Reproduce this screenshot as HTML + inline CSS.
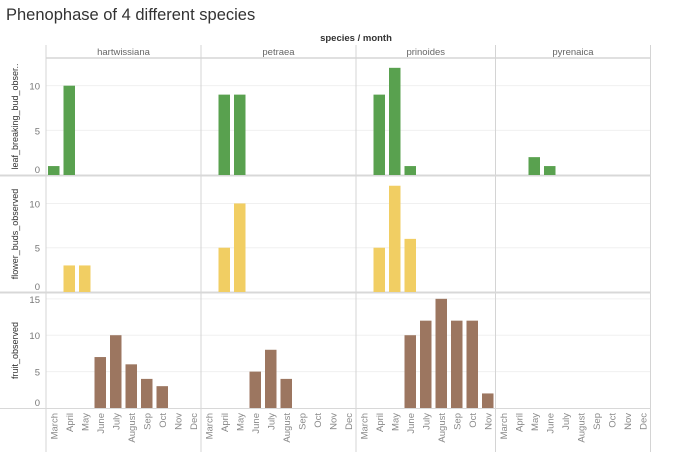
<!DOCTYPE html>
<html><head><meta charset="utf-8"><style>
body{margin:0;background:#fff;font-family:"Liberation Sans",sans-serif;}
svg text{font-family:"Liberation Sans",sans-serif;}
</style></head><body>
<svg id="c" width="675" height="458" xmlns="http://www.w3.org/2000/svg">
<text x="6" y="20" font-size="16.5" fill="#333">Phenophase of 4 different species</text>
<text x="356" y="41" font-size="9.5" font-weight="bold" fill="#333" text-anchor="middle">species / month</text>
</svg>
<script>
const species=["hartwissiana","petraea","prinoides","pyrenaica"];
const speciesMonths=[
 ["March","April","May","June","July","August","Sep","Oct","Nov","Dec"],
 ["March","April","May","June","July","August","Sep","Oct","Nov","Dec"],
 ["March","April","May","June","July","August","Sep","Oct","Nov"],
 ["March","April","May","June","July","August","Sep","Oct","Nov","Dec"]];
const measures=["leaf_breaking_bud_obser..","flower_buds_observed","fruit_observed"];
const colors=["#59a14f","#f1ce63","#9c7660"];
const leafValues=[[1,10,0,0,0,0,0,0,0,0],[0,9,9,0,0,0,0,0,0,0],[0,9,12,1,0,0,0,0,0],[0,0,2,1,0,0,0,0,0,0]];
const flowerValues=[[0,3,3,0,0,0,0,0,0,0],[0,5,10,0,0,0,0,0,0,0],[0,5,12,6,0,0,0,0,0],[0,0,0,0,0,0,0,0,0,0]];
const fruitValues=[[0,0,0,7,10,6,4,3,0,0],[0,0,0,5,8,4,0,0,0,0],[0,0,0,10,12,15,12,12,2],[0,0,0,0,0,0,0,0,0,0]];
const rowTicks=[[0,5,10],[0,5,10],[0,5,10,15]];
const rowMax=[13.1,13.1,15.8];
const all=[leafValues,flowerValues,fruitValues];
const svg=document.getElementById('c');const NS="http://www.w3.org/2000/svg";
function mk(t,a,p){const e=document.createElementNS(NS,t);for(const k in a)e.setAttribute(k,a[k]);(p||svg).appendChild(e);return e;}
const X0=46,SLOT=15.5,BW=11.5;
const rows=[{top:58,bot:175},{top:176,bot:292},{top:293,bot:408}];
const colX=[];let cx=X0;species.forEach((s,i)=>{colX.push(cx);cx+=speciesMonths[i].length*SLOT;});
const XR=cx;
function yS(r,v){const R=rows[r];return R.bot-(v/rowMax[r])*(R.bot-R.top);}
rows.forEach((R,r)=>{rowTicks[r].forEach(t=>{if(t>0){const y=yS(r,t);mk('line',{x1:X0,x2:XR,y1:y,y2:y,stroke:'#f0f0f0'});}});});
mk('line',{x1:X0,x2:XR,y1:58,y2:58,stroke:'#e0e0e0','stroke-width':2});
colX.concat([XR]).forEach((x,i)=>{const l=mk('line',{x1:x,x2:x,y1:45,y2:452,stroke:'#d4d4d4'});

});
species.forEach((s,i)=>{const w=speciesMonths[i].length*SLOT;const t=mk('text',{x:colX[i]+w/2,y:55,'font-size':9.5,fill:'#666','text-anchor':'middle'});t.textContent=s;

});
rows.forEach((R,r)=>{
 mk('line',{x1:0,x2:XR,y1:R.bot+0.5,y2:R.bot+0.5,stroke:'#d8d8d8','stroke-width':r<2?2:1});
 rowTicks[r].forEach(t=>{let y=yS(r,t)+4;if(t==0)y-=6;const e=mk('text',{x:40,y:y,'font-size':9.5,fill:'#777','text-anchor':'end'});e.textContent=t;
 
 });
 const my=(R.top+R.bot)/2;const ttl=mk('text',{x:0,y:0,'font-size':9,fill:'#333','text-anchor':'middle',transform:`translate(18,${my}) rotate(-90)`});ttl.textContent=measures[r];
 
 
 species.forEach((s,i)=>{all[r][i].forEach((v,m)=>{if(v<=0)return;const x=colX[i]+m*SLOT+(SLOT-BW)/2;const y=yS(r,v);
  const b=mk('rect',{x:x,y:y,width:BW,height:R.bot-y,fill:colors[r]});
  
  });});
});
species.forEach((s,i)=>{speciesMonths[i].forEach((m,k)=>{const x=colX[i]+k*SLOT+SLOT/2+3.5;const t=mk('text',{x:0,y:0,'font-size':9.5,fill:'#888','text-anchor':'end',transform:`translate(${x},413) rotate(-90)`});t.textContent=m;
 
 });});
</script>
</body></html>
